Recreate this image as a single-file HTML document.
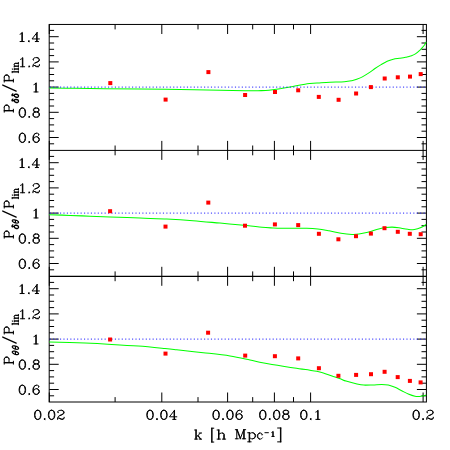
<!DOCTYPE html>
<html><head><meta charset="utf-8"><title>Power spectrum ratios</title>
<style>
html,body{margin:0;padding:0;background:#fff;}
body{width:450px;height:450px;overflow:hidden;font-family:"Liberation Serif",serif;}
svg{display:block;}
</style></head><body>
<svg width="450" height="450" viewBox="0 0 450 450">
<rect width="450" height="450" fill="#fff"/>
<g stroke="#000" stroke-width="1.00" fill="none" stroke-linecap="butt">
<rect x="49.20" y="24.45" width="377.20" height="377.55"/>
<line x1="49.2" y1="150.40" x2="426.4" y2="150.40" stroke-width="1.00"/>
<line x1="49.2" y1="276.30" x2="426.4" y2="276.30" stroke-width="1.30"/>
<line x1="49.3" y1="24.4" x2="49.3" y2="34.0"/>
<line x1="49.3" y1="140.9" x2="49.3" y2="159.9"/>
<line x1="49.3" y1="266.8" x2="49.3" y2="285.8"/>
<line x1="49.3" y1="392.5" x2="49.3" y2="402.0"/>
<line x1="115.1" y1="24.4" x2="115.1" y2="29.4"/>
<line x1="115.1" y1="145.5" x2="115.1" y2="155.3"/>
<line x1="115.1" y1="271.4" x2="115.1" y2="281.2"/>
<line x1="115.1" y1="397.1" x2="115.1" y2="402.0"/>
<line x1="161.8" y1="24.4" x2="161.8" y2="34.0"/>
<line x1="161.8" y1="140.9" x2="161.8" y2="159.9"/>
<line x1="161.8" y1="266.8" x2="161.8" y2="285.8"/>
<line x1="161.8" y1="392.5" x2="161.8" y2="402.0"/>
<line x1="198.0" y1="24.4" x2="198.0" y2="29.4"/>
<line x1="198.0" y1="145.5" x2="198.0" y2="155.3"/>
<line x1="198.0" y1="271.4" x2="198.0" y2="281.2"/>
<line x1="198.0" y1="397.1" x2="198.0" y2="402.0"/>
<line x1="227.6" y1="24.4" x2="227.6" y2="34.0"/>
<line x1="227.6" y1="140.9" x2="227.6" y2="159.9"/>
<line x1="227.6" y1="266.8" x2="227.6" y2="285.8"/>
<line x1="227.6" y1="392.5" x2="227.6" y2="402.0"/>
<line x1="252.7" y1="24.4" x2="252.7" y2="29.4"/>
<line x1="252.7" y1="145.5" x2="252.7" y2="155.3"/>
<line x1="252.7" y1="271.4" x2="252.7" y2="281.2"/>
<line x1="252.7" y1="397.1" x2="252.7" y2="402.0"/>
<line x1="274.4" y1="24.4" x2="274.4" y2="34.0"/>
<line x1="274.4" y1="140.9" x2="274.4" y2="159.9"/>
<line x1="274.4" y1="266.8" x2="274.4" y2="285.8"/>
<line x1="274.4" y1="392.5" x2="274.4" y2="402.0"/>
<line x1="293.5" y1="24.4" x2="293.5" y2="29.4"/>
<line x1="293.5" y1="145.5" x2="293.5" y2="155.3"/>
<line x1="293.5" y1="271.4" x2="293.5" y2="281.2"/>
<line x1="293.5" y1="397.1" x2="293.5" y2="402.0"/>
<line x1="310.6" y1="24.4" x2="310.6" y2="34.0"/>
<line x1="310.6" y1="140.9" x2="310.6" y2="159.9"/>
<line x1="310.6" y1="266.8" x2="310.6" y2="285.8"/>
<line x1="310.6" y1="392.5" x2="310.6" y2="402.0"/>
<line x1="423.1" y1="24.4" x2="423.1" y2="34.0"/>
<line x1="423.1" y1="140.9" x2="423.1" y2="159.9"/>
<line x1="423.1" y1="266.8" x2="423.1" y2="285.8"/>
<line x1="423.1" y1="392.5" x2="423.1" y2="402.0"/>
<line x1="49.2" y1="143.80" x2="54.1" y2="143.80"/>
<line x1="421.5" y1="143.80" x2="426.4" y2="143.80"/>
<line x1="49.2" y1="137.50" x2="58.7" y2="137.50"/>
<line x1="416.9" y1="137.50" x2="426.4" y2="137.50"/>
<line x1="49.2" y1="131.20" x2="54.1" y2="131.20"/>
<line x1="421.5" y1="131.20" x2="426.4" y2="131.20"/>
<line x1="49.2" y1="124.90" x2="54.1" y2="124.90"/>
<line x1="421.5" y1="124.90" x2="426.4" y2="124.90"/>
<line x1="49.2" y1="118.60" x2="54.1" y2="118.60"/>
<line x1="421.5" y1="118.60" x2="426.4" y2="118.60"/>
<line x1="49.2" y1="112.30" x2="58.7" y2="112.30"/>
<line x1="416.9" y1="112.30" x2="426.4" y2="112.30"/>
<line x1="49.2" y1="106.00" x2="54.1" y2="106.00"/>
<line x1="421.5" y1="106.00" x2="426.4" y2="106.00"/>
<line x1="49.2" y1="99.70" x2="54.1" y2="99.70"/>
<line x1="421.5" y1="99.70" x2="426.4" y2="99.70"/>
<line x1="49.2" y1="93.40" x2="54.1" y2="93.40"/>
<line x1="421.5" y1="93.40" x2="426.4" y2="93.40"/>
<line x1="49.2" y1="87.10" x2="58.7" y2="87.10"/>
<line x1="416.9" y1="87.10" x2="426.4" y2="87.10"/>
<line x1="49.2" y1="80.80" x2="54.1" y2="80.80"/>
<line x1="421.5" y1="80.80" x2="426.4" y2="80.80"/>
<line x1="49.2" y1="74.50" x2="54.1" y2="74.50"/>
<line x1="421.5" y1="74.50" x2="426.4" y2="74.50"/>
<line x1="49.2" y1="68.20" x2="54.1" y2="68.20"/>
<line x1="421.5" y1="68.20" x2="426.4" y2="68.20"/>
<line x1="49.2" y1="61.90" x2="58.7" y2="61.90"/>
<line x1="416.9" y1="61.90" x2="426.4" y2="61.90"/>
<line x1="49.2" y1="55.60" x2="54.1" y2="55.60"/>
<line x1="421.5" y1="55.60" x2="426.4" y2="55.60"/>
<line x1="49.2" y1="49.30" x2="54.1" y2="49.30"/>
<line x1="421.5" y1="49.30" x2="426.4" y2="49.30"/>
<line x1="49.2" y1="43.00" x2="54.1" y2="43.00"/>
<line x1="421.5" y1="43.00" x2="426.4" y2="43.00"/>
<line x1="49.2" y1="36.70" x2="58.7" y2="36.70"/>
<line x1="416.9" y1="36.70" x2="426.4" y2="36.70"/>
<line x1="49.2" y1="30.40" x2="54.1" y2="30.40"/>
<line x1="421.5" y1="30.40" x2="426.4" y2="30.40"/>
<line x1="49.2" y1="269.80" x2="54.1" y2="269.80"/>
<line x1="421.5" y1="269.80" x2="426.4" y2="269.80"/>
<line x1="49.2" y1="263.50" x2="58.7" y2="263.50"/>
<line x1="416.9" y1="263.50" x2="426.4" y2="263.50"/>
<line x1="49.2" y1="257.20" x2="54.1" y2="257.20"/>
<line x1="421.5" y1="257.20" x2="426.4" y2="257.20"/>
<line x1="49.2" y1="250.90" x2="54.1" y2="250.90"/>
<line x1="421.5" y1="250.90" x2="426.4" y2="250.90"/>
<line x1="49.2" y1="244.60" x2="54.1" y2="244.60"/>
<line x1="421.5" y1="244.60" x2="426.4" y2="244.60"/>
<line x1="49.2" y1="238.30" x2="58.7" y2="238.30"/>
<line x1="416.9" y1="238.30" x2="426.4" y2="238.30"/>
<line x1="49.2" y1="232.00" x2="54.1" y2="232.00"/>
<line x1="421.5" y1="232.00" x2="426.4" y2="232.00"/>
<line x1="49.2" y1="225.70" x2="54.1" y2="225.70"/>
<line x1="421.5" y1="225.70" x2="426.4" y2="225.70"/>
<line x1="49.2" y1="219.40" x2="54.1" y2="219.40"/>
<line x1="421.5" y1="219.40" x2="426.4" y2="219.40"/>
<line x1="49.2" y1="213.10" x2="58.7" y2="213.10"/>
<line x1="416.9" y1="213.10" x2="426.4" y2="213.10"/>
<line x1="49.2" y1="206.80" x2="54.1" y2="206.80"/>
<line x1="421.5" y1="206.80" x2="426.4" y2="206.80"/>
<line x1="49.2" y1="200.50" x2="54.1" y2="200.50"/>
<line x1="421.5" y1="200.50" x2="426.4" y2="200.50"/>
<line x1="49.2" y1="194.20" x2="54.1" y2="194.20"/>
<line x1="421.5" y1="194.20" x2="426.4" y2="194.20"/>
<line x1="49.2" y1="187.90" x2="58.7" y2="187.90"/>
<line x1="416.9" y1="187.90" x2="426.4" y2="187.90"/>
<line x1="49.2" y1="181.60" x2="54.1" y2="181.60"/>
<line x1="421.5" y1="181.60" x2="426.4" y2="181.60"/>
<line x1="49.2" y1="175.30" x2="54.1" y2="175.30"/>
<line x1="421.5" y1="175.30" x2="426.4" y2="175.30"/>
<line x1="49.2" y1="169.00" x2="54.1" y2="169.00"/>
<line x1="421.5" y1="169.00" x2="426.4" y2="169.00"/>
<line x1="49.2" y1="162.70" x2="58.7" y2="162.70"/>
<line x1="416.9" y1="162.70" x2="426.4" y2="162.70"/>
<line x1="49.2" y1="156.40" x2="54.1" y2="156.40"/>
<line x1="421.5" y1="156.40" x2="426.4" y2="156.40"/>
<line x1="49.2" y1="395.80" x2="54.1" y2="395.80"/>
<line x1="421.5" y1="395.80" x2="426.4" y2="395.80"/>
<line x1="49.2" y1="389.50" x2="58.7" y2="389.50"/>
<line x1="416.9" y1="389.50" x2="426.4" y2="389.50"/>
<line x1="49.2" y1="383.20" x2="54.1" y2="383.20"/>
<line x1="421.5" y1="383.20" x2="426.4" y2="383.20"/>
<line x1="49.2" y1="376.90" x2="54.1" y2="376.90"/>
<line x1="421.5" y1="376.90" x2="426.4" y2="376.90"/>
<line x1="49.2" y1="370.60" x2="54.1" y2="370.60"/>
<line x1="421.5" y1="370.60" x2="426.4" y2="370.60"/>
<line x1="49.2" y1="364.30" x2="58.7" y2="364.30"/>
<line x1="416.9" y1="364.30" x2="426.4" y2="364.30"/>
<line x1="49.2" y1="358.00" x2="54.1" y2="358.00"/>
<line x1="421.5" y1="358.00" x2="426.4" y2="358.00"/>
<line x1="49.2" y1="351.70" x2="54.1" y2="351.70"/>
<line x1="421.5" y1="351.70" x2="426.4" y2="351.70"/>
<line x1="49.2" y1="345.40" x2="54.1" y2="345.40"/>
<line x1="421.5" y1="345.40" x2="426.4" y2="345.40"/>
<line x1="49.2" y1="339.10" x2="58.7" y2="339.10"/>
<line x1="416.9" y1="339.10" x2="426.4" y2="339.10"/>
<line x1="49.2" y1="332.80" x2="54.1" y2="332.80"/>
<line x1="421.5" y1="332.80" x2="426.4" y2="332.80"/>
<line x1="49.2" y1="326.50" x2="54.1" y2="326.50"/>
<line x1="421.5" y1="326.50" x2="426.4" y2="326.50"/>
<line x1="49.2" y1="320.20" x2="54.1" y2="320.20"/>
<line x1="421.5" y1="320.20" x2="426.4" y2="320.20"/>
<line x1="49.2" y1="313.90" x2="58.7" y2="313.90"/>
<line x1="416.9" y1="313.90" x2="426.4" y2="313.90"/>
<line x1="49.2" y1="307.60" x2="54.1" y2="307.60"/>
<line x1="421.5" y1="307.60" x2="426.4" y2="307.60"/>
<line x1="49.2" y1="301.30" x2="54.1" y2="301.30"/>
<line x1="421.5" y1="301.30" x2="426.4" y2="301.30"/>
<line x1="49.2" y1="295.00" x2="54.1" y2="295.00"/>
<line x1="421.5" y1="295.00" x2="426.4" y2="295.00"/>
<line x1="49.2" y1="288.70" x2="58.7" y2="288.70"/>
<line x1="416.9" y1="288.70" x2="426.4" y2="288.70"/>
<line x1="49.2" y1="282.40" x2="54.1" y2="282.40"/>
<line x1="421.5" y1="282.40" x2="426.4" y2="282.40"/>
</g>
<path d="M49.3 87.9 C53.6 88.0 65.7 88.2 75.0 88.3 C84.3 88.4 94.2 88.6 105.0 88.7 C115.8 88.8 127.5 89.0 140.0 89.1 C152.5 89.2 166.7 89.3 180.0 89.5 C193.3 89.7 209.2 90.1 220.0 90.3 C230.8 90.5 238.7 90.7 245.0 90.8 C251.3 90.9 254.0 90.8 258.0 90.7 C262.0 90.6 265.2 90.7 269.0 90.3 C272.8 89.9 277.0 89.2 281.0 88.6 C285.0 87.9 289.0 87.1 293.0 86.4 C297.0 85.7 300.8 84.8 305.0 84.2 C309.2 83.6 313.8 83.3 318.0 83.0 C322.2 82.7 325.6 82.4 330.0 82.2 C334.4 82.0 340.8 82.0 344.4 81.7 C348.0 81.5 349.8 81.1 351.8 80.7 C353.9 80.3 354.9 80.0 356.7 79.3 C358.5 78.6 360.8 77.7 362.8 76.6 C364.8 75.5 366.9 74.2 368.9 72.9 C370.9 71.6 373.0 69.9 375.0 68.5 C377.0 67.1 379.1 65.8 381.1 64.6 C383.1 63.4 385.2 62.1 387.2 61.2 C389.2 60.3 391.2 59.7 393.3 59.2 C395.4 58.7 397.4 58.6 399.5 58.3 C401.6 58.0 403.8 57.7 405.6 57.3 C407.4 56.9 408.9 56.7 410.5 56.1 C412.1 55.5 413.8 54.9 415.4 53.9 C417.0 52.9 418.8 51.2 420.2 49.9 C421.6 48.5 422.9 47.1 423.9 45.8 C424.9 44.5 425.8 42.7 426.2 42.1" fill="none" stroke="#00ff00" stroke-width="1.05"/>
<path d="M49.3 214.7 C52.8 214.8 63.2 215.2 70.0 215.4 C76.8 215.7 83.3 215.9 90.0 216.2 C96.7 216.5 101.7 216.7 110.0 217.0 C118.3 217.3 130.6 217.7 140.0 218.0 C149.4 218.3 157.9 218.7 166.7 219.1 C175.5 219.5 184.1 220.0 193.0 220.7 C201.9 221.4 211.1 222.3 220.0 223.1 C228.9 223.9 239.7 224.8 246.7 225.5 C253.7 226.2 257.6 226.9 262.0 227.3 C266.4 227.7 269.3 227.8 273.0 228.0 C276.7 228.2 280.2 228.2 284.0 228.2 C287.8 228.2 291.7 228.2 295.5 228.2 C299.3 228.2 303.0 228.1 306.7 228.2 C310.4 228.3 314.1 228.5 317.8 228.9 C321.5 229.3 325.1 230.0 329.0 230.7 C332.9 231.4 337.2 232.7 341.0 233.3 C344.8 233.9 349.0 234.3 352.0 234.4 C355.0 234.5 356.3 234.4 358.9 234.0 C361.5 233.6 364.8 232.9 367.8 232.2 C370.8 231.5 373.7 230.4 376.7 229.6 C379.7 228.8 383.1 228.0 385.6 227.6 C388.2 227.2 389.8 227.1 392.0 227.1 C394.2 227.1 396.3 227.4 398.9 227.8 C401.5 228.2 405.2 229.0 407.8 229.3 C410.4 229.6 412.2 229.9 414.4 229.6 C416.6 229.3 419.0 228.5 421.0 227.6 C423.0 226.7 425.3 224.9 426.2 224.4" fill="none" stroke="#00ff00" stroke-width="1.05"/>
<path d="M49.3 341.9 C55.2 342.1 74.6 342.7 85.0 343.1 C95.4 343.5 102.8 343.9 111.7 344.4 C120.6 344.9 129.4 345.4 138.3 346.1 C147.2 346.8 158.6 347.9 165.0 348.5 C171.4 349.1 170.3 349.0 176.7 349.7 C183.1 350.4 194.4 351.7 203.3 352.7 C212.2 353.7 222.2 354.7 230.0 355.9 C237.8 357.1 244.8 358.9 250.0 360.0 C255.2 361.1 257.3 361.7 261.0 362.4 C264.7 363.1 268.3 363.8 272.0 364.4 C275.7 365.0 279.3 365.6 283.0 366.2 C286.7 366.8 290.6 367.4 294.4 368.0 C298.2 368.6 301.9 369.1 305.6 369.6 C309.3 370.2 313.8 370.8 316.7 371.3 C319.6 371.9 320.8 372.1 323.3 372.9 C325.9 373.7 329.1 375.0 332.0 376.0 C334.9 377.0 338.7 378.2 341.0 379.1 C343.3 380.0 343.3 380.3 346.0 381.1 C348.7 381.9 354.0 383.3 357.0 384.0 C360.0 384.7 361.3 385.0 363.9 385.1 C366.5 385.2 369.8 385.0 372.8 384.9 C375.8 384.8 379.1 384.4 381.7 384.4 C384.3 384.4 386.1 384.6 388.3 385.1 C390.5 385.6 392.8 386.4 395.0 387.3 C397.2 388.2 399.5 389.6 401.7 390.7 C403.9 391.8 406.1 393.1 408.3 394.0 C410.5 394.9 413.1 395.8 415.0 396.2 C416.9 396.6 417.9 396.5 419.4 396.4 C420.9 396.3 422.9 396.1 424.0 395.8 C425.1 395.6 425.8 395.0 426.2 394.9" fill="none" stroke="#00ff00" stroke-width="1.05"/>
<line x1="49.7" y1="87.10" x2="426.4" y2="87.10" stroke="#2020ff" stroke-width="1.0" stroke-dasharray="1.15 2.28"/>
<line x1="49.7" y1="213.10" x2="426.4" y2="213.10" stroke="#2020ff" stroke-width="1.0" stroke-dasharray="1.15 2.28"/>
<line x1="49.7" y1="339.10" x2="426.4" y2="339.10" stroke="#2020ff" stroke-width="1.0" stroke-dasharray="1.15 2.28"/>
<rect x="108.3" y="81.1" width="4.0" height="4.0" fill="#ff0000"/>
<rect x="163.6" y="97.6" width="4.0" height="4.0" fill="#ff0000"/>
<rect x="206.4" y="70.1" width="4.0" height="4.0" fill="#ff0000"/>
<rect x="243.1" y="93.0" width="4.0" height="4.0" fill="#ff0000"/>
<rect x="273.0" y="90.0" width="4.0" height="4.0" fill="#ff0000"/>
<rect x="296.2" y="88.3" width="4.0" height="4.0" fill="#ff0000"/>
<rect x="316.8" y="94.9" width="4.0" height="4.0" fill="#ff0000"/>
<rect x="336.6" y="97.8" width="4.0" height="4.0" fill="#ff0000"/>
<rect x="354.1" y="91.5" width="4.0" height="4.0" fill="#ff0000"/>
<rect x="368.9" y="85.1" width="4.0" height="4.0" fill="#ff0000"/>
<rect x="382.7" y="76.5" width="4.0" height="4.0" fill="#ff0000"/>
<rect x="395.8" y="75.3" width="4.0" height="4.0" fill="#ff0000"/>
<rect x="408.0" y="74.6" width="4.0" height="4.0" fill="#ff0000"/>
<rect x="418.7" y="72.1" width="4.0" height="4.0" fill="#ff0000"/>
<rect x="108.1" y="209.2" width="4.0" height="4.0" fill="#ff0000"/>
<rect x="163.5" y="224.6" width="4.0" height="4.0" fill="#ff0000"/>
<rect x="206.3" y="200.6" width="4.0" height="4.0" fill="#ff0000"/>
<rect x="243.0" y="223.7" width="4.0" height="4.0" fill="#ff0000"/>
<rect x="272.9" y="222.4" width="4.0" height="4.0" fill="#ff0000"/>
<rect x="296.2" y="223.1" width="4.0" height="4.0" fill="#ff0000"/>
<rect x="316.9" y="231.8" width="4.0" height="4.0" fill="#ff0000"/>
<rect x="336.4" y="237.3" width="4.0" height="4.0" fill="#ff0000"/>
<rect x="354.0" y="234.2" width="4.0" height="4.0" fill="#ff0000"/>
<rect x="368.9" y="231.6" width="4.0" height="4.0" fill="#ff0000"/>
<rect x="382.5" y="226.2" width="4.0" height="4.0" fill="#ff0000"/>
<rect x="395.8" y="229.8" width="4.0" height="4.0" fill="#ff0000"/>
<rect x="407.8" y="231.8" width="4.0" height="4.0" fill="#ff0000"/>
<rect x="418.7" y="232.2" width="4.0" height="4.0" fill="#ff0000"/>
<rect x="108.1" y="337.5" width="4.0" height="4.0" fill="#ff0000"/>
<rect x="163.5" y="351.6" width="4.0" height="4.0" fill="#ff0000"/>
<rect x="206.1" y="330.7" width="4.0" height="4.0" fill="#ff0000"/>
<rect x="243.2" y="353.6" width="4.0" height="4.0" fill="#ff0000"/>
<rect x="272.9" y="354.2" width="4.0" height="4.0" fill="#ff0000"/>
<rect x="296.2" y="356.4" width="4.0" height="4.0" fill="#ff0000"/>
<rect x="316.9" y="366.2" width="4.0" height="4.0" fill="#ff0000"/>
<rect x="336.4" y="373.8" width="4.0" height="4.0" fill="#ff0000"/>
<rect x="354.1" y="372.9" width="4.0" height="4.0" fill="#ff0000"/>
<rect x="369.0" y="372.2" width="4.0" height="4.0" fill="#ff0000"/>
<rect x="382.6" y="369.8" width="4.0" height="4.0" fill="#ff0000"/>
<rect x="395.7" y="375.1" width="4.0" height="4.0" fill="#ff0000"/>
<rect x="407.9" y="378.9" width="4.0" height="4.0" fill="#ff0000"/>
<rect x="418.6" y="380.4" width="4.0" height="4.0" fill="#ff0000"/>
<path  d="M20.05 34.18 L20.97 33.75 L22.36 32.45 L22.36 41.54 M21.89 32.88 L21.89 41.54 M20.05 41.54 L24.20 41.54 M28.48 40.98 L29.17 40.98 L29.17 41.54 L28.48 41.54 L28.48 40.98 L29.17 41.54 M29.17 40.98 L28.48 41.54 M36.68 33.32 L36.68 41.54 M37.14 32.45 L37.14 41.54 M37.14 32.45 L32.06 38.95 L39.45 38.95 M35.29 41.54 L38.53 41.54 M20.51 59.38 L21.43 58.95 L22.82 57.65 L22.82 66.74 M22.36 58.08 L22.36 66.74 M20.51 66.74 L24.67 66.74 M28.94 66.18 L29.63 66.18 L29.63 66.74 L28.94 66.74 L28.94 66.18 L29.63 66.74 M29.63 66.18 L28.94 66.74 M33.44 59.38 L33.91 59.82 L33.44 60.25 L32.98 59.82 L32.98 59.38 L33.44 58.52 L33.91 58.08 L35.29 57.65 L37.14 57.65 L38.53 58.08 L38.99 58.52 L39.45 59.38 L39.45 60.25 L38.99 61.11 L37.60 61.98 L35.29 62.85 L34.37 63.28 L33.44 64.15 L32.98 65.44 L32.98 66.74 M37.14 57.65 L38.06 58.08 L38.53 58.52 L38.99 59.38 L38.99 60.25 L38.53 61.11 L37.14 61.98 L35.29 62.85 M32.98 65.88 L33.44 65.44 L34.37 65.44 L36.68 66.31 L38.06 66.31 L38.99 65.88 L39.45 65.44 M34.37 65.44 L36.68 66.74 L38.53 66.74 L38.99 66.31 L39.45 65.44 L39.45 64.58 M33.94 84.58 L34.87 84.15 L36.25 82.85 L36.25 91.94 M35.79 83.28 L35.79 91.94 M33.94 91.94 L38.10 91.94 M21.89 108.05 L20.51 108.48 L19.58 109.78 L19.12 111.95 L19.12 113.25 L19.58 115.41 L20.51 116.71 L21.89 117.14 L22.82 117.14 L24.20 116.71 L25.13 115.41 L25.59 113.25 L25.59 111.95 L25.13 109.78 L24.20 108.48 L22.82 108.05 L21.89 108.05 M21.89 108.05 L20.97 108.48 L20.51 108.92 L20.05 109.78 L19.58 111.95 L19.58 113.25 L20.05 115.41 L20.51 116.28 L20.97 116.71 L21.89 117.14 M22.82 117.14 L23.74 116.71 L24.20 116.28 L24.67 115.41 L25.13 113.25 L25.13 111.95 L24.67 109.78 L24.20 108.92 L23.74 108.48 L22.82 108.05 M28.94 116.58 L29.63 116.58 L29.63 117.14 L28.94 117.14 L28.94 116.58 L29.63 117.14 M29.63 116.58 L28.94 117.14 M35.29 108.05 L33.91 108.48 L33.44 109.35 L33.44 110.65 L33.91 111.51 L35.29 111.95 L37.14 111.95 L38.53 111.51 L38.99 110.65 L38.99 109.35 L38.53 108.48 L37.14 108.05 L35.29 108.05 M35.29 108.05 L34.37 108.48 L33.91 109.35 L33.91 110.65 L34.37 111.51 L35.29 111.95 M37.14 111.95 L38.06 111.51 L38.53 110.65 L38.53 109.35 L38.06 108.48 L37.14 108.05 M35.29 111.95 L33.91 112.38 L33.44 112.81 L32.98 113.68 L32.98 115.41 L33.44 116.28 L33.91 116.71 L35.29 117.14 L37.14 117.14 L38.53 116.71 L38.99 116.28 L39.45 115.41 L39.45 113.68 L38.99 112.81 L38.53 112.38 L37.14 111.95 M35.29 111.95 L34.37 112.38 L33.91 112.81 L33.44 113.68 L33.44 115.41 L33.91 116.28 L34.37 116.71 L35.29 117.14 M37.14 117.14 L38.06 116.71 L38.53 116.28 L38.99 115.41 L38.99 113.68 L38.53 112.81 L38.06 112.38 L37.14 111.95 M21.89 133.25 L20.51 133.68 L19.58 134.98 L19.12 137.15 L19.12 138.45 L19.58 140.61 L20.51 141.91 L21.89 142.34 L22.82 142.34 L24.20 141.91 L25.13 140.61 L25.59 138.45 L25.59 137.15 L25.13 134.98 L24.20 133.68 L22.82 133.25 L21.89 133.25 M21.89 133.25 L20.97 133.68 L20.51 134.12 L20.05 134.98 L19.58 137.15 L19.58 138.45 L20.05 140.61 L20.51 141.48 L20.97 141.91 L21.89 142.34 M22.82 142.34 L23.74 141.91 L24.20 141.48 L24.67 140.61 L25.13 138.45 L25.13 137.15 L24.67 134.98 L24.20 134.12 L23.74 133.68 L22.82 133.25 M28.94 141.78 L29.63 141.78 L29.63 142.34 L28.94 142.34 L28.94 141.78 L29.63 142.34 M29.63 141.78 L28.94 142.34 M38.53 134.55 L38.06 134.98 L38.53 135.41 L38.99 134.98 L38.99 134.55 L38.53 133.68 L37.60 133.25 L36.22 133.25 L34.83 133.68 L33.91 134.55 L33.44 135.41 L32.98 137.15 L32.98 139.75 L33.44 141.04 L34.37 141.91 L35.75 142.34 L36.68 142.34 L38.06 141.91 L38.99 141.04 L39.45 139.75 L39.45 139.31 L38.99 138.01 L38.06 137.15 L36.68 136.71 L36.22 136.71 L34.83 137.15 L33.91 138.01 L33.44 139.31 M36.22 133.25 L35.29 133.68 L34.37 134.55 L33.91 135.41 L33.44 137.15 L33.44 139.75 L33.91 141.04 L34.83 141.91 L35.75 142.34 M36.68 142.34 L37.60 141.91 L38.53 141.04 L38.99 139.75 L38.99 139.31 L38.53 138.01 L37.60 137.15 L36.68 136.71 M20.05 160.18 L20.97 159.75 L22.36 158.45 L22.36 167.54 M21.89 158.88 L21.89 167.54 M20.05 167.54 L24.20 167.54 M28.48 166.98 L29.17 166.98 L29.17 167.54 L28.48 167.54 L28.48 166.98 L29.17 167.54 M29.17 166.98 L28.48 167.54 M36.68 159.32 L36.68 167.54 M37.14 158.45 L37.14 167.54 M37.14 158.45 L32.06 164.95 L39.45 164.95 M35.29 167.54 L38.53 167.54 M20.51 185.38 L21.43 184.95 L22.82 183.65 L22.82 192.74 M22.36 184.08 L22.36 192.74 M20.51 192.74 L24.67 192.74 M28.94 192.18 L29.63 192.18 L29.63 192.74 L28.94 192.74 L28.94 192.18 L29.63 192.74 M29.63 192.18 L28.94 192.74 M33.44 185.38 L33.91 185.81 L33.44 186.25 L32.98 185.81 L32.98 185.38 L33.44 184.52 L33.91 184.08 L35.29 183.65 L37.14 183.65 L38.53 184.08 L38.99 184.52 L39.45 185.38 L39.45 186.25 L38.99 187.11 L37.60 187.98 L35.29 188.85 L34.37 189.28 L33.44 190.15 L32.98 191.44 L32.98 192.74 M37.14 183.65 L38.06 184.08 L38.53 184.52 L38.99 185.38 L38.99 186.25 L38.53 187.11 L37.14 187.98 L35.29 188.85 M32.98 191.88 L33.44 191.44 L34.37 191.44 L36.68 192.31 L38.06 192.31 L38.99 191.88 L39.45 191.44 M34.37 191.44 L36.68 192.74 L38.53 192.74 L38.99 192.31 L39.45 191.44 L39.45 190.58 M33.94 210.58 L34.87 210.15 L36.25 208.85 L36.25 217.94 M35.79 209.28 L35.79 217.94 M33.94 217.94 L38.10 217.94 M21.89 234.05 L20.51 234.48 L19.58 235.78 L19.12 237.95 L19.12 239.25 L19.58 241.41 L20.51 242.71 L21.89 243.14 L22.82 243.14 L24.20 242.71 L25.13 241.41 L25.59 239.25 L25.59 237.95 L25.13 235.78 L24.20 234.48 L22.82 234.05 L21.89 234.05 M21.89 234.05 L20.97 234.48 L20.51 234.92 L20.05 235.78 L19.58 237.95 L19.58 239.25 L20.05 241.41 L20.51 242.28 L20.97 242.71 L21.89 243.14 M22.82 243.14 L23.74 242.71 L24.20 242.28 L24.67 241.41 L25.13 239.25 L25.13 237.95 L24.67 235.78 L24.20 234.92 L23.74 234.48 L22.82 234.05 M28.94 242.58 L29.63 242.58 L29.63 243.14 L28.94 243.14 L28.94 242.58 L29.63 243.14 M29.63 242.58 L28.94 243.14 M35.29 234.05 L33.91 234.48 L33.44 235.35 L33.44 236.65 L33.91 237.51 L35.29 237.95 L37.14 237.95 L38.53 237.51 L38.99 236.65 L38.99 235.35 L38.53 234.48 L37.14 234.05 L35.29 234.05 M35.29 234.05 L34.37 234.48 L33.91 235.35 L33.91 236.65 L34.37 237.51 L35.29 237.95 M37.14 237.95 L38.06 237.51 L38.53 236.65 L38.53 235.35 L38.06 234.48 L37.14 234.05 M35.29 237.95 L33.91 238.38 L33.44 238.81 L32.98 239.68 L32.98 241.41 L33.44 242.28 L33.91 242.71 L35.29 243.14 L37.14 243.14 L38.53 242.71 L38.99 242.28 L39.45 241.41 L39.45 239.68 L38.99 238.81 L38.53 238.38 L37.14 237.95 M35.29 237.95 L34.37 238.38 L33.91 238.81 L33.44 239.68 L33.44 241.41 L33.91 242.28 L34.37 242.71 L35.29 243.14 M37.14 243.14 L38.06 242.71 L38.53 242.28 L38.99 241.41 L38.99 239.68 L38.53 238.81 L38.06 238.38 L37.14 237.95 M21.89 259.25 L20.51 259.68 L19.58 260.98 L19.12 263.15 L19.12 264.45 L19.58 266.61 L20.51 267.91 L21.89 268.34 L22.82 268.34 L24.20 267.91 L25.13 266.61 L25.59 264.45 L25.59 263.15 L25.13 260.98 L24.20 259.68 L22.82 259.25 L21.89 259.25 M21.89 259.25 L20.97 259.68 L20.51 260.12 L20.05 260.98 L19.58 263.15 L19.58 264.45 L20.05 266.61 L20.51 267.48 L20.97 267.91 L21.89 268.34 M22.82 268.34 L23.74 267.91 L24.20 267.48 L24.67 266.61 L25.13 264.45 L25.13 263.15 L24.67 260.98 L24.20 260.12 L23.74 259.68 L22.82 259.25 M28.94 267.78 L29.63 267.78 L29.63 268.34 L28.94 268.34 L28.94 267.78 L29.63 268.34 M29.63 267.78 L28.94 268.34 M38.53 260.55 L38.06 260.98 L38.53 261.42 L38.99 260.98 L38.99 260.55 L38.53 259.68 L37.60 259.25 L36.22 259.25 L34.83 259.68 L33.91 260.55 L33.44 261.42 L32.98 263.15 L32.98 265.75 L33.44 267.04 L34.37 267.91 L35.75 268.34 L36.68 268.34 L38.06 267.91 L38.99 267.04 L39.45 265.75 L39.45 265.31 L38.99 264.01 L38.06 263.15 L36.68 262.71 L36.22 262.71 L34.83 263.15 L33.91 264.01 L33.44 265.31 M36.22 259.25 L35.29 259.68 L34.37 260.55 L33.91 261.42 L33.44 263.15 L33.44 265.75 L33.91 267.04 L34.83 267.91 L35.75 268.34 M36.68 268.34 L37.60 267.91 L38.53 267.04 L38.99 265.75 L38.99 265.31 L38.53 264.01 L37.60 263.15 L36.68 262.71 M20.05 286.18 L20.97 285.75 L22.36 284.45 L22.36 293.54 M21.89 284.88 L21.89 293.54 M20.05 293.54 L24.20 293.54 M28.48 292.98 L29.17 292.98 L29.17 293.54 L28.48 293.54 L28.48 292.98 L29.17 293.54 M29.17 292.98 L28.48 293.54 M36.68 285.32 L36.68 293.54 M37.14 284.45 L37.14 293.54 M37.14 284.45 L32.06 290.95 L39.45 290.95 M35.29 293.54 L38.53 293.54 M20.51 311.38 L21.43 310.95 L22.82 309.65 L22.82 318.74 M22.36 310.08 L22.36 318.74 M20.51 318.74 L24.67 318.74 M28.94 318.18 L29.63 318.18 L29.63 318.74 L28.94 318.74 L28.94 318.18 L29.63 318.74 M29.63 318.18 L28.94 318.74 M33.44 311.38 L33.91 311.81 L33.44 312.25 L32.98 311.81 L32.98 311.38 L33.44 310.52 L33.91 310.08 L35.29 309.65 L37.14 309.65 L38.53 310.08 L38.99 310.52 L39.45 311.38 L39.45 312.25 L38.99 313.11 L37.60 313.98 L35.29 314.85 L34.37 315.28 L33.44 316.14 L32.98 317.44 L32.98 318.74 M37.14 309.65 L38.06 310.08 L38.53 310.52 L38.99 311.38 L38.99 312.25 L38.53 313.11 L37.14 313.98 L35.29 314.85 M32.98 317.88 L33.44 317.44 L34.37 317.44 L36.68 318.31 L38.06 318.31 L38.99 317.88 L39.45 317.44 M34.37 317.44 L36.68 318.74 L38.53 318.74 L38.99 318.31 L39.45 317.44 L39.45 316.58 M33.94 336.58 L34.87 336.15 L36.25 334.85 L36.25 343.94 M35.79 335.28 L35.79 343.94 M33.94 343.94 L38.10 343.94 M21.89 360.05 L20.51 360.48 L19.58 361.78 L19.12 363.95 L19.12 365.25 L19.58 367.41 L20.51 368.71 L21.89 369.14 L22.82 369.14 L24.20 368.71 L25.13 367.41 L25.59 365.25 L25.59 363.95 L25.13 361.78 L24.20 360.48 L22.82 360.05 L21.89 360.05 M21.89 360.05 L20.97 360.48 L20.51 360.92 L20.05 361.78 L19.58 363.95 L19.58 365.25 L20.05 367.41 L20.51 368.28 L20.97 368.71 L21.89 369.14 M22.82 369.14 L23.74 368.71 L24.20 368.28 L24.67 367.41 L25.13 365.25 L25.13 363.95 L24.67 361.78 L24.20 360.92 L23.74 360.48 L22.82 360.05 M28.94 368.58 L29.63 368.58 L29.63 369.14 L28.94 369.14 L28.94 368.58 L29.63 369.14 M29.63 368.58 L28.94 369.14 M35.29 360.05 L33.91 360.48 L33.44 361.35 L33.44 362.65 L33.91 363.51 L35.29 363.95 L37.14 363.95 L38.53 363.51 L38.99 362.65 L38.99 361.35 L38.53 360.48 L37.14 360.05 L35.29 360.05 M35.29 360.05 L34.37 360.48 L33.91 361.35 L33.91 362.65 L34.37 363.51 L35.29 363.95 M37.14 363.95 L38.06 363.51 L38.53 362.65 L38.53 361.35 L38.06 360.48 L37.14 360.05 M35.29 363.95 L33.91 364.38 L33.44 364.81 L32.98 365.68 L32.98 367.41 L33.44 368.28 L33.91 368.71 L35.29 369.14 L37.14 369.14 L38.53 368.71 L38.99 368.28 L39.45 367.41 L39.45 365.68 L38.99 364.81 L38.53 364.38 L37.14 363.95 M35.29 363.95 L34.37 364.38 L33.91 364.81 L33.44 365.68 L33.44 367.41 L33.91 368.28 L34.37 368.71 L35.29 369.14 M37.14 369.14 L38.06 368.71 L38.53 368.28 L38.99 367.41 L38.99 365.68 L38.53 364.81 L38.06 364.38 L37.14 363.95 M21.89 385.25 L20.51 385.68 L19.58 386.98 L19.12 389.15 L19.12 390.45 L19.58 392.61 L20.51 393.91 L21.89 394.34 L22.82 394.34 L24.20 393.91 L25.13 392.61 L25.59 390.45 L25.59 389.15 L25.13 386.98 L24.20 385.68 L22.82 385.25 L21.89 385.25 M21.89 385.25 L20.97 385.68 L20.51 386.12 L20.05 386.98 L19.58 389.15 L19.58 390.45 L20.05 392.61 L20.51 393.48 L20.97 393.91 L21.89 394.34 M22.82 394.34 L23.74 393.91 L24.20 393.48 L24.67 392.61 L25.13 390.45 L25.13 389.15 L24.67 386.98 L24.20 386.12 L23.74 385.68 L22.82 385.25 M28.94 393.78 L29.63 393.78 L29.63 394.34 L28.94 394.34 L28.94 393.78 L29.63 394.34 M29.63 393.78 L28.94 394.34 M38.53 386.55 L38.06 386.98 L38.53 387.42 L38.99 386.98 L38.99 386.55 L38.53 385.68 L37.60 385.25 L36.22 385.25 L34.83 385.68 L33.91 386.55 L33.44 387.42 L32.98 389.15 L32.98 391.75 L33.44 393.04 L34.37 393.91 L35.75 394.34 L36.68 394.34 L38.06 393.91 L38.99 393.04 L39.45 391.75 L39.45 391.31 L38.99 390.01 L38.06 389.15 L36.68 388.71 L36.22 388.71 L34.83 389.15 L33.91 390.01 L33.44 391.31 M36.22 385.25 L35.29 385.68 L34.37 386.55 L33.91 387.42 L33.44 389.15 L33.44 391.75 L33.91 393.04 L34.83 393.91 L35.75 394.34 M36.68 394.34 L37.60 393.91 L38.53 393.04 L38.99 391.75 L38.99 391.31 L38.53 390.01 L37.60 389.15 L36.68 388.71 M37.29 410.30 L35.90 410.73 L34.98 412.03 L34.52 414.20 L34.52 415.50 L34.98 417.66 L35.90 418.96 L37.29 419.39 L38.21 419.39 L39.60 418.96 L40.52 417.66 L40.98 415.50 L40.98 414.20 L40.52 412.03 L39.60 410.73 L38.21 410.30 L37.29 410.30 M37.29 410.30 L36.36 410.73 L35.90 411.17 L35.44 412.03 L34.98 414.20 L34.98 415.50 L35.44 417.66 L35.90 418.53 L36.36 418.96 L37.29 419.39 M38.21 419.39 L39.14 418.96 L39.60 418.53 L40.06 417.66 L40.52 415.50 L40.52 414.20 L40.06 412.03 L39.60 411.17 L39.14 410.73 L38.21 410.30 M44.33 418.83 L45.03 418.83 L45.03 419.39 L44.33 419.39 L44.33 418.83 L45.03 419.39 M45.03 418.83 L44.33 419.39 M51.15 410.30 L49.76 410.73 L48.84 412.03 L48.38 414.20 L48.38 415.50 L48.84 417.66 L49.76 418.96 L51.15 419.39 L52.07 419.39 L53.46 418.96 L54.38 417.66 L54.84 415.50 L54.84 414.20 L54.38 412.03 L53.46 410.73 L52.07 410.30 L51.15 410.30 M51.15 410.30 L50.22 410.73 L49.76 411.17 L49.30 412.03 L48.84 414.20 L48.84 415.50 L49.30 417.66 L49.76 418.53 L50.22 418.96 L51.15 419.39 M52.07 419.39 L53.00 418.96 L53.46 418.53 L53.92 417.66 L54.38 415.50 L54.38 414.20 L53.92 412.03 L53.46 411.17 L53.00 410.73 L52.07 410.30 M58.08 412.03 L58.54 412.47 L58.08 412.90 L57.62 412.47 L57.62 412.03 L58.08 411.17 L58.54 410.73 L59.93 410.30 L61.77 410.30 L63.16 410.73 L63.62 411.17 L64.08 412.03 L64.08 412.90 L63.62 413.76 L62.24 414.63 L59.93 415.50 L59.00 415.93 L58.08 416.80 L57.62 418.09 L57.62 419.39 M61.77 410.30 L62.70 410.73 L63.16 411.17 L63.62 412.03 L63.62 412.90 L63.16 413.76 L61.77 414.63 L59.93 415.50 M57.62 418.53 L58.08 418.09 L59.00 418.09 L61.31 418.96 L62.70 418.96 L63.62 418.53 L64.08 418.09 M59.00 418.09 L61.31 419.39 L63.16 419.39 L63.62 418.96 L64.08 418.09 L64.08 417.23 M149.58 410.30 L148.20 410.73 L147.27 412.03 L146.81 414.20 L146.81 415.50 L147.27 417.66 L148.20 418.96 L149.58 419.39 L150.51 419.39 L151.89 418.96 L152.82 417.66 L153.28 415.50 L153.28 414.20 L152.82 412.03 L151.89 410.73 L150.51 410.30 L149.58 410.30 M149.58 410.30 L148.66 410.73 L148.20 411.17 L147.73 412.03 L147.27 414.20 L147.27 415.50 L147.73 417.66 L148.20 418.53 L148.66 418.96 L149.58 419.39 M150.51 419.39 L151.43 418.96 L151.89 418.53 L152.35 417.66 L152.82 415.50 L152.82 414.20 L152.35 412.03 L151.89 411.17 L151.43 410.73 L150.51 410.30 M156.63 418.83 L157.32 418.83 L157.32 419.39 L156.63 419.39 L156.63 418.83 L157.32 419.39 M157.32 418.83 L156.63 419.39 M163.44 410.30 L162.06 410.73 L161.13 412.03 L160.67 414.20 L160.67 415.50 L161.13 417.66 L162.06 418.96 L163.44 419.39 L164.37 419.39 L165.75 418.96 L166.68 417.66 L167.14 415.50 L167.14 414.20 L166.68 412.03 L165.75 410.73 L164.37 410.30 L163.44 410.30 M163.44 410.30 L162.52 410.73 L162.06 411.17 L161.59 412.03 L161.13 414.20 L161.13 415.50 L161.59 417.66 L162.06 418.53 L162.52 418.96 L163.44 419.39 M164.37 419.39 L165.29 418.96 L165.75 418.53 L166.21 417.66 L166.68 415.50 L166.68 414.20 L166.21 412.03 L165.75 411.17 L165.29 410.73 L164.37 410.30 M174.07 411.17 L174.07 419.39 M174.53 410.30 L174.53 419.39 M174.53 410.30 L169.45 416.80 L176.84 416.80 M172.68 419.39 L175.92 419.39 M215.64 410.30 L214.25 410.73 L213.33 412.03 L212.86 414.20 L212.86 415.50 L213.33 417.66 L214.25 418.96 L215.64 419.39 L216.56 419.39 L217.95 418.96 L218.87 417.66 L219.33 415.50 L219.33 414.20 L218.87 412.03 L217.95 410.73 L216.56 410.30 L215.64 410.30 M215.64 410.30 L214.71 410.73 L214.25 411.17 L213.79 412.03 L213.33 414.20 L213.33 415.50 L213.79 417.66 L214.25 418.53 L214.71 418.96 L215.64 419.39 M216.56 419.39 L217.48 418.96 L217.95 418.53 L218.41 417.66 L218.87 415.50 L218.87 414.20 L218.41 412.03 L217.95 411.17 L217.48 410.73 L216.56 410.30 M222.68 418.83 L223.37 418.83 L223.37 419.39 L222.68 419.39 L222.68 418.83 L223.37 419.39 M223.37 418.83 L222.68 419.39 M229.50 410.30 L228.11 410.73 L227.19 412.03 L226.72 414.20 L226.72 415.50 L227.19 417.66 L228.11 418.96 L229.50 419.39 L230.42 419.39 L231.81 418.96 L232.73 417.66 L233.19 415.50 L233.19 414.20 L232.73 412.03 L231.81 410.73 L230.42 410.30 L229.50 410.30 M229.50 410.30 L228.57 410.73 L228.11 411.17 L227.65 412.03 L227.19 414.20 L227.19 415.50 L227.65 417.66 L228.11 418.53 L228.57 418.96 L229.50 419.39 M230.42 419.39 L231.34 418.96 L231.81 418.53 L232.27 417.66 L232.73 415.50 L232.73 414.20 L232.27 412.03 L231.81 411.17 L231.34 410.73 L230.42 410.30 M241.51 411.60 L241.05 412.03 L241.51 412.47 L241.97 412.03 L241.97 411.60 L241.51 410.73 L240.58 410.30 L239.20 410.30 L237.81 410.73 L236.89 411.60 L236.43 412.47 L235.96 414.20 L235.96 416.80 L236.43 418.09 L237.35 418.96 L238.74 419.39 L239.66 419.39 L241.05 418.96 L241.97 418.09 L242.43 416.80 L242.43 416.36 L241.97 415.06 L241.05 414.20 L239.66 413.76 L239.20 413.76 L237.81 414.20 L236.89 415.06 L236.43 416.36 M239.20 410.30 L238.27 410.73 L237.35 411.60 L236.89 412.47 L236.43 414.20 L236.43 416.80 L236.89 418.09 L237.81 418.96 L238.74 419.39 M239.66 419.39 L240.58 418.96 L241.51 418.09 L241.97 416.80 L241.97 416.36 L241.51 415.06 L240.58 414.20 L239.66 413.76 M262.34 410.30 L260.95 410.73 L260.03 412.03 L259.57 414.20 L259.57 415.50 L260.03 417.66 L260.95 418.96 L262.34 419.39 L263.26 419.39 L264.65 418.96 L265.57 417.66 L266.03 415.50 L266.03 414.20 L265.57 412.03 L264.65 410.73 L263.26 410.30 L262.34 410.30 M262.34 410.30 L261.41 410.73 L260.95 411.17 L260.49 412.03 L260.03 414.20 L260.03 415.50 L260.49 417.66 L260.95 418.53 L261.41 418.96 L262.34 419.39 M263.26 419.39 L264.19 418.96 L264.65 418.53 L265.11 417.66 L265.57 415.50 L265.57 414.20 L265.11 412.03 L264.65 411.17 L264.19 410.73 L263.26 410.30 M269.38 418.83 L270.08 418.83 L270.08 419.39 L269.38 419.39 L269.38 418.83 L270.08 419.39 M270.08 418.83 L269.38 419.39 M276.20 410.30 L274.81 410.73 L273.89 412.03 L273.43 414.20 L273.43 415.50 L273.89 417.66 L274.81 418.96 L276.20 419.39 L277.12 419.39 L278.51 418.96 L279.43 417.66 L279.89 415.50 L279.89 414.20 L279.43 412.03 L278.51 410.73 L277.12 410.30 L276.20 410.30 M276.20 410.30 L275.27 410.73 L274.81 411.17 L274.35 412.03 L273.89 414.20 L273.89 415.50 L274.35 417.66 L274.81 418.53 L275.27 418.96 L276.20 419.39 M277.12 419.39 L278.05 418.96 L278.51 418.53 L278.97 417.66 L279.43 415.50 L279.43 414.20 L278.97 412.03 L278.51 411.17 L278.05 410.73 L277.12 410.30 M284.98 410.30 L283.59 410.73 L283.13 411.60 L283.13 412.90 L283.59 413.76 L284.98 414.20 L286.82 414.20 L288.21 413.76 L288.67 412.90 L288.67 411.60 L288.21 410.73 L286.82 410.30 L284.98 410.30 M284.98 410.30 L284.05 410.73 L283.59 411.60 L283.59 412.90 L284.05 413.76 L284.98 414.20 M286.82 414.20 L287.75 413.76 L288.21 412.90 L288.21 411.60 L287.75 410.73 L286.82 410.30 M284.98 414.20 L283.59 414.63 L283.13 415.06 L282.67 415.93 L282.67 417.66 L283.13 418.53 L283.59 418.96 L284.98 419.39 L286.82 419.39 L288.21 418.96 L288.67 418.53 L289.13 417.66 L289.13 415.93 L288.67 415.06 L288.21 414.63 L286.82 414.20 M284.98 414.20 L284.05 414.63 L283.59 415.06 L283.13 415.93 L283.13 417.66 L283.59 418.53 L284.05 418.96 L284.98 419.39 M286.82 419.39 L287.75 418.96 L288.21 418.53 L288.67 417.66 L288.67 415.93 L288.21 415.06 L287.75 414.63 L286.82 414.20 M303.34 410.30 L301.96 410.73 L301.03 412.03 L300.57 414.20 L300.57 415.50 L301.03 417.66 L301.96 418.96 L303.34 419.39 L304.27 419.39 L305.65 418.96 L306.58 417.66 L307.04 415.50 L307.04 414.20 L306.58 412.03 L305.65 410.73 L304.27 410.30 L303.34 410.30 M303.34 410.30 L302.42 410.73 L301.96 411.17 L301.50 412.03 L301.03 414.20 L301.03 415.50 L301.50 417.66 L301.96 418.53 L302.42 418.96 L303.34 419.39 M304.27 419.39 L305.19 418.96 L305.65 418.53 L306.12 417.66 L306.58 415.50 L306.58 414.20 L306.12 412.03 L305.65 411.17 L305.19 410.73 L304.27 410.30 M310.39 418.83 L311.08 418.83 L311.08 419.39 L310.39 419.39 L310.39 418.83 L311.08 419.39 M311.08 418.83 L310.39 419.39 M315.82 412.03 L316.74 411.60 L318.13 410.30 L318.13 419.39 M317.67 410.73 L317.67 419.39 M315.82 419.39 L319.98 419.39 M415.71 410.30 L414.32 410.73 L413.40 412.03 L412.94 414.20 L412.94 415.50 L413.40 417.66 L414.32 418.96 L415.71 419.39 L416.63 419.39 L418.02 418.96 L418.94 417.66 L419.40 415.50 L419.40 414.20 L418.94 412.03 L418.02 410.73 L416.63 410.30 L415.71 410.30 M415.71 410.30 L414.78 410.73 L414.32 411.17 L413.86 412.03 L413.40 414.20 L413.40 415.50 L413.86 417.66 L414.32 418.53 L414.78 418.96 L415.71 419.39 M416.63 419.39 L417.56 418.96 L418.02 418.53 L418.48 417.66 L418.94 415.50 L418.94 414.20 L418.48 412.03 L418.02 411.17 L417.56 410.73 L416.63 410.30 M422.75 418.83 L423.45 418.83 L423.45 419.39 L422.75 419.39 L422.75 418.83 L423.45 419.39 M423.45 418.83 L422.75 419.39 M427.26 412.03 L427.72 412.47 L427.26 412.90 L426.80 412.47 L426.80 412.03 L427.26 411.17 L427.72 410.73 L429.11 410.30 L430.95 410.30 L432.34 410.73 L432.80 411.17 L433.26 412.03 L433.26 412.90 L432.80 413.76 L431.42 414.63 L429.11 415.50 L428.18 415.93 L427.26 416.80 L426.80 418.09 L426.80 419.39 M430.95 410.30 L431.88 410.73 L432.34 411.17 L432.80 412.03 L432.80 412.90 L432.34 413.76 L430.95 414.63 L429.11 415.50 M426.80 418.53 L427.26 418.09 L428.18 418.09 L430.49 418.96 L431.88 418.96 L432.80 418.53 L433.26 418.09 M428.18 418.09 L430.49 419.39 L432.34 419.39 L432.80 418.96 L433.26 418.09 L433.26 417.23 M195.84 430.01 L195.84 439.10 M196.25 430.01 L196.25 439.10 M200.36 433.04 L196.25 437.37 M198.31 435.64 L200.78 439.10 M197.89 435.64 L200.36 439.10 M194.60 430.01 L196.25 430.01 M199.13 433.04 L201.60 433.04 M194.60 439.10 L197.48 439.10 M199.13 439.10 L201.60 439.10 M211.70 428.20 L211.70 442.06 M212.00 428.20 L212.00 442.06 M211.70 428.20 L213.80 428.20 M211.70 442.06 L213.80 442.06 M218.53 430.01 L218.53 439.10 M219.01 430.01 L219.01 439.10 M219.01 434.34 L219.97 433.47 L221.40 433.04 L222.36 433.04 L223.79 433.47 L224.27 434.34 L224.27 439.10 M222.36 433.04 L223.31 433.47 L223.79 434.34 L223.79 439.10 M217.10 430.01 L219.01 430.01 M217.10 439.10 L220.44 439.10 M222.36 439.10 L225.70 439.10 M236.79 429.70 L236.79 438.79 M237.28 429.70 L240.25 437.49 M236.79 429.70 L240.25 438.79 M243.72 429.70 L240.25 438.79 M243.72 429.70 L243.72 438.79 M244.21 429.70 L244.21 438.79 M235.30 429.70 L237.28 429.70 M243.72 429.70 L245.70 429.70 M235.30 438.79 L238.27 438.79 M242.23 438.79 L245.70 438.79 M249.16 432.73 L249.16 441.82 M249.66 432.73 L249.66 441.82 M249.66 434.03 L250.65 433.16 L251.64 432.73 L252.63 432.73 L254.11 433.16 L255.10 434.03 L255.60 435.33 L255.60 436.19 L255.10 437.49 L254.11 438.36 L252.63 438.79 L251.64 438.79 L250.65 438.36 L249.66 437.49 M252.63 432.73 L253.62 433.16 L254.61 434.03 L255.10 435.33 L255.10 436.19 L254.61 437.49 L253.62 438.36 L252.63 438.79 M247.68 432.73 L249.66 432.73 M247.68 441.82 L251.14 441.82 M262.02 434.34 L261.63 434.77 L262.02 435.20 L262.40 434.77 L262.40 434.34 L261.63 433.47 L260.86 433.04 L259.71 433.04 L258.55 433.47 L257.78 434.34 L257.40 435.64 L257.40 436.50 L257.78 437.80 L258.55 438.67 L259.71 439.10 L260.48 439.10 L261.63 438.67 L262.40 437.80 M259.71 433.04 L258.94 433.47 L258.17 434.34 L257.78 435.64 L257.78 436.50 L258.17 437.80 L258.94 438.67 L259.71 439.10 M280.43 428.00 L280.43 441.86 M280.90 428.00 L280.90 441.86 M277.61 428.00 L280.90 428.00 M277.61 441.86 L280.90 441.86 M264.90 432.70 L268.40 432.70 M271.80 432.44 L272.33 432.20 L273.13 431.50 L273.13 436.44 M272.87 431.74 L272.87 436.44 M271.80 436.44 L274.20 436.44" fill="none" stroke="#000" stroke-width="1.00" stroke-linecap="round" stroke-linejoin="round"/>
<path transform="translate(13.9 112.70) rotate(-90)" d="M1.78 -9.66 L1.78 -0.50 M2.21 -9.66 L2.21 -0.50 M0.50 -9.66 L5.64 -9.66 L6.92 -9.22 L7.35 -8.78 L7.78 -7.91 L7.78 -6.60 L7.35 -5.73 L6.92 -5.30 L5.64 -4.86 L2.21 -4.86 M5.64 -9.66 L6.49 -9.22 L6.92 -8.78 L7.35 -7.91 L7.35 -6.60 L6.92 -5.73 L6.49 -5.30 L5.64 -4.86 M0.50 -0.50 L3.50 -0.50 M31.88 -9.66 L31.88 -0.50 M32.31 -9.66 L32.31 -0.50 M30.60 -9.66 L35.74 -9.66 L37.02 -9.22 L37.45 -8.78 L37.88 -7.91 L37.88 -6.60 L37.45 -5.73 L37.02 -5.30 L35.74 -4.86 L32.31 -4.86 M35.74 -9.66 L36.59 -9.22 L37.02 -8.78 L37.45 -7.91 L37.45 -6.60 L37.02 -5.73 L36.59 -5.30 L35.74 -4.86 M30.60 -0.50 L33.60 -0.50" fill="none" stroke="#000" stroke-width="1.00" stroke-linecap="round" stroke-linejoin="round"/>
<path transform="translate(13.9 112.70) rotate(-90)" d="M12.85 0.75 L12.30 0.45 L11.75 0.45 L10.93 0.75 L10.38 1.65 L10.10 2.55 L10.10 3.45 L10.38 4.05 L10.65 4.35 L11.20 4.65 L11.75 4.65 L12.58 4.35 L13.12 3.45 L13.40 2.55 L13.40 1.65 L13.12 1.05 L12.03 -0.45 L11.75 -1.05 L11.75 -1.65 L12.03 -1.95 L12.58 -1.95 L13.12 -1.65 L13.68 -1.05 M11.75 0.45 L11.20 0.75 L10.65 1.65 L10.38 2.55 L10.38 3.75 L10.65 4.35 M11.75 4.65 L12.30 4.35 L12.85 3.45 L13.12 2.55 L13.12 1.35 L12.85 0.75 L12.30 -0.15 L12.03 -0.75 L12.03 -1.35 L12.30 -1.65 L12.85 -1.65 L13.68 -1.05 M18.08 0.75 L17.52 0.45 L16.98 0.45 L16.15 0.75 L15.60 1.65 L15.33 2.55 L15.33 3.45 L15.60 4.05 L15.88 4.35 L16.43 4.65 L16.98 4.65 L17.80 4.35 L18.35 3.45 L18.62 2.55 L18.62 1.65 L18.35 1.05 L17.25 -0.45 L16.98 -1.05 L16.98 -1.65 L17.25 -1.95 L17.80 -1.95 L18.35 -1.65 L18.90 -1.05 M16.98 0.45 L16.43 0.75 L15.88 1.65 L15.60 2.55 L15.60 3.75 L15.88 4.35 M16.98 4.65 L17.52 4.35 L18.08 3.45 L18.35 2.55 L18.35 1.35 L18.08 0.75 L17.52 -0.15 L17.25 -0.75 L17.25 -1.35 L17.52 -1.65 L18.08 -1.65 L18.90 -1.05" fill="none" stroke="#000" stroke-width="1.20" stroke-linecap="round" stroke-linejoin="round"/>
<path transform="translate(13.9 112.70) rotate(-90)" d="M27.65 -11.15 L21.55 2.25" fill="none" stroke="#000" stroke-width="1.30" stroke-linecap="round" stroke-linejoin="round"/>
<path transform="translate(13.9 112.70) rotate(-90)" d="M40.72 -1.69 L40.72 4.50 M40.98 -1.69 L40.98 4.50 M39.95 -1.69 L40.98 -1.69 M39.95 4.50 L41.75 4.50 M43.56 -1.69 L43.30 -1.40 L43.56 -1.10 L43.81 -1.40 L43.56 -1.69 M43.56 0.37 L43.56 4.50 M43.81 0.37 L43.81 4.50 M42.78 0.37 L43.81 0.37 M42.78 4.50 L44.59 4.50 M46.39 0.37 L46.39 4.50 M46.65 0.37 L46.65 4.50 M46.65 1.26 L47.16 0.67 L47.93 0.37 L48.45 0.37 L49.22 0.67 L49.48 1.26 L49.48 4.50 M48.45 0.37 L48.96 0.67 L49.22 1.26 L49.22 4.50 M45.62 0.37 L46.65 0.37 M45.62 4.50 L47.42 4.50 M48.45 4.50 L50.25 4.50" fill="none" stroke="#000" stroke-width="0.90" stroke-linecap="round" stroke-linejoin="round"/>
<path transform="translate(13.9 238.70) rotate(-90)" d="M1.78 -9.66 L1.78 -0.50 M2.21 -9.66 L2.21 -0.50 M0.50 -9.66 L5.64 -9.66 L6.92 -9.22 L7.35 -8.78 L7.78 -7.91 L7.78 -6.60 L7.35 -5.73 L6.92 -5.30 L5.64 -4.86 L2.21 -4.86 M5.64 -9.66 L6.49 -9.22 L6.92 -8.78 L7.35 -7.91 L7.35 -6.60 L6.92 -5.73 L6.49 -5.30 L5.64 -4.86 M0.50 -0.50 L3.50 -0.50 M31.88 -9.66 L31.88 -0.50 M32.31 -9.66 L32.31 -0.50 M30.60 -9.66 L35.74 -9.66 L37.02 -9.22 L37.45 -8.78 L37.88 -7.91 L37.88 -6.60 L37.45 -5.73 L37.02 -5.30 L35.74 -4.86 L32.31 -4.86 M35.74 -9.66 L36.59 -9.22 L37.02 -8.78 L37.45 -7.91 L37.45 -6.60 L37.02 -5.73 L36.59 -5.30 L35.74 -4.86 M30.60 -0.50 L33.60 -0.50" fill="none" stroke="#000" stroke-width="1.00" stroke-linecap="round" stroke-linejoin="round"/>
<path transform="translate(13.9 238.70) rotate(-90)" d="M13.03 0.75 L12.44 0.45 L11.86 0.45 L10.98 0.75 L10.39 1.65 L10.10 2.55 L10.10 3.45 L10.39 4.05 L10.69 4.35 L11.27 4.65 L11.86 4.65 L12.74 4.35 L13.32 3.45 L13.61 2.55 L13.61 1.65 L13.32 1.05 L12.15 -0.45 L11.86 -1.05 L11.86 -1.65 L12.15 -1.95 L12.74 -1.95 L13.32 -1.65 L13.91 -1.05 M11.86 0.45 L11.27 0.75 L10.69 1.65 L10.39 2.55 L10.39 3.75 L10.69 4.35 M11.86 4.65 L12.44 4.35 L13.03 3.45 L13.32 2.55 L13.32 1.35 L13.03 0.75 L12.44 -0.15 L12.15 -0.75 L12.15 -1.35 L12.44 -1.65 L13.03 -1.65 L13.91 -1.05 M18.71 1.50 L18.46 2.32 L18.13 3.08 L17.74 3.73 L17.33 4.23 L16.90 4.54 L16.50 4.65 L16.16 4.54 L15.89 4.23 L15.72 3.73 L15.65 3.08 L15.69 2.32 L15.84 1.50 L16.09 0.68 L16.42 -0.07 L16.80 -0.73 L17.22 -1.23 L17.64 -1.54 L18.04 -1.65 L18.39 -1.54 L18.66 -1.23 L18.83 -0.73 L18.90 -0.08 L18.86 0.68 L18.71 1.50 M15.84 1.50 L18.71 1.50" fill="none" stroke="#000" stroke-width="1.20" stroke-linecap="round" stroke-linejoin="round"/>
<path transform="translate(13.9 238.70) rotate(-90)" d="M27.65 -11.15 L21.55 2.25" fill="none" stroke="#000" stroke-width="1.30" stroke-linecap="round" stroke-linejoin="round"/>
<path transform="translate(13.9 238.70) rotate(-90)" d="M40.72 -1.69 L40.72 4.50 M40.98 -1.69 L40.98 4.50 M39.95 -1.69 L40.98 -1.69 M39.95 4.50 L41.75 4.50 M43.56 -1.69 L43.30 -1.40 L43.56 -1.10 L43.81 -1.40 L43.56 -1.69 M43.56 0.37 L43.56 4.50 M43.81 0.37 L43.81 4.50 M42.78 0.37 L43.81 0.37 M42.78 4.50 L44.59 4.50 M46.39 0.37 L46.39 4.50 M46.65 0.37 L46.65 4.50 M46.65 1.26 L47.16 0.67 L47.93 0.37 L48.45 0.37 L49.22 0.67 L49.48 1.26 L49.48 4.50 M48.45 0.37 L48.96 0.67 L49.22 1.26 L49.22 4.50 M45.62 0.37 L46.65 0.37 M45.62 4.50 L47.42 4.50 M48.45 4.50 L50.25 4.50" fill="none" stroke="#000" stroke-width="0.90" stroke-linecap="round" stroke-linejoin="round"/>
<path transform="translate(13.9 364.70) rotate(-90)" d="M1.78 -9.66 L1.78 -0.50 M2.21 -9.66 L2.21 -0.50 M0.50 -9.66 L5.64 -9.66 L6.92 -9.22 L7.35 -8.78 L7.78 -7.91 L7.78 -6.60 L7.35 -5.73 L6.92 -5.30 L5.64 -4.86 L2.21 -4.86 M5.64 -9.66 L6.49 -9.22 L6.92 -8.78 L7.35 -7.91 L7.35 -6.60 L6.92 -5.73 L6.49 -5.30 L5.64 -4.86 M0.50 -0.50 L3.50 -0.50 M31.88 -9.66 L31.88 -0.50 M32.31 -9.66 L32.31 -0.50 M30.60 -9.66 L35.74 -9.66 L37.02 -9.22 L37.45 -8.78 L37.88 -7.91 L37.88 -6.60 L37.45 -5.73 L37.02 -5.30 L35.74 -4.86 L32.31 -4.86 M35.74 -9.66 L36.59 -9.22 L37.02 -8.78 L37.45 -7.91 L37.45 -6.60 L37.02 -5.73 L36.59 -5.30 L35.74 -4.86 M30.60 -0.50 L33.60 -0.50" fill="none" stroke="#000" stroke-width="1.00" stroke-linecap="round" stroke-linejoin="round"/>
<path transform="translate(13.9 364.70) rotate(-90)" d="M13.37 1.50 L13.11 2.32 L12.76 3.08 L12.34 3.73 L11.89 4.23 L11.44 4.54 L11.02 4.65 L10.65 4.54 L10.36 4.23 L10.17 3.73 L10.10 3.08 L10.14 2.32 L10.31 1.50 L10.57 0.68 L10.92 -0.07 L11.34 -0.73 L11.78 -1.23 L12.24 -1.54 L12.66 -1.65 L13.03 -1.54 L13.32 -1.23 L13.50 -0.73 L13.58 -0.08 L13.53 0.68 L13.37 1.50 M10.31 1.50 L13.37 1.50 M18.69 1.50 L18.43 2.32 L18.08 3.08 L17.66 3.73 L17.22 4.23 L16.76 4.54 L16.34 4.65 L15.97 4.54 L15.68 4.23 L15.50 3.73 L15.42 3.08 L15.47 2.32 L15.63 1.50 L15.89 0.68 L16.24 -0.07 L16.66 -0.73 L17.11 -1.23 L17.56 -1.54 L17.98 -1.65 L18.35 -1.54 L18.64 -1.23 L18.83 -0.73 L18.90 -0.08 L18.86 0.68 L18.69 1.50 M15.63 1.50 L18.69 1.50" fill="none" stroke="#000" stroke-width="1.20" stroke-linecap="round" stroke-linejoin="round"/>
<path transform="translate(13.9 364.70) rotate(-90)" d="M27.65 -11.15 L21.55 2.25" fill="none" stroke="#000" stroke-width="1.30" stroke-linecap="round" stroke-linejoin="round"/>
<path transform="translate(13.9 364.70) rotate(-90)" d="M40.72 -1.69 L40.72 4.50 M40.98 -1.69 L40.98 4.50 M39.95 -1.69 L40.98 -1.69 M39.95 4.50 L41.75 4.50 M43.56 -1.69 L43.30 -1.40 L43.56 -1.10 L43.81 -1.40 L43.56 -1.69 M43.56 0.37 L43.56 4.50 M43.81 0.37 L43.81 4.50 M42.78 0.37 L43.81 0.37 M42.78 4.50 L44.59 4.50 M46.39 0.37 L46.39 4.50 M46.65 0.37 L46.65 4.50 M46.65 1.26 L47.16 0.67 L47.93 0.37 L48.45 0.37 L49.22 0.67 L49.48 1.26 L49.48 4.50 M48.45 0.37 L48.96 0.67 L49.22 1.26 L49.22 4.50 M45.62 0.37 L46.65 0.37 M45.62 4.50 L47.42 4.50 M48.45 4.50 L50.25 4.50" fill="none" stroke="#000" stroke-width="0.90" stroke-linecap="round" stroke-linejoin="round"/>
</svg>
</body></html>
